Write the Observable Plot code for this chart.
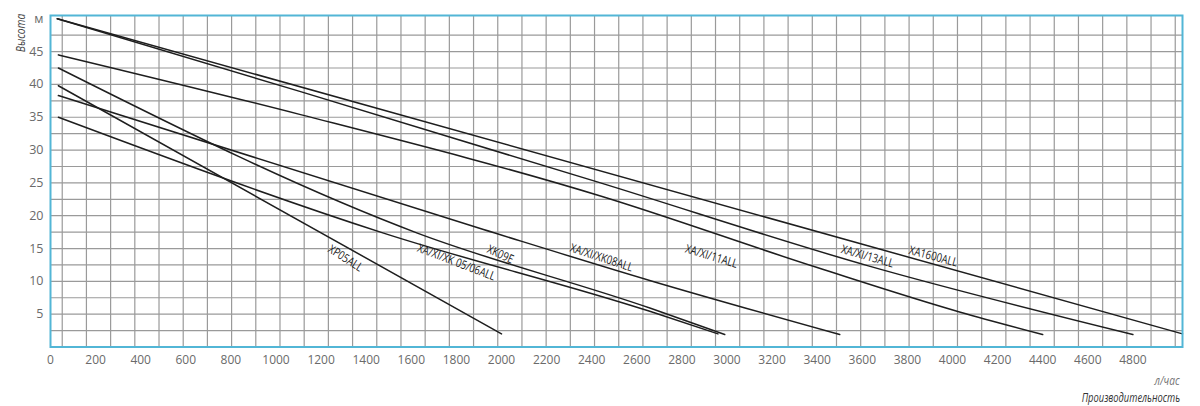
<!DOCTYPE html>
<html><head><meta charset="utf-8">
<script src="https://cdn.jsdelivr.net/npm/d3@7"></script>
<script src="https://cdn.jsdelivr.net/npm/@observablehq/plot@0.6"></script>
<style>
body{margin:0;background:#fff;}
#wrap{position:relative;width:1200px;height:406px;overflow:hidden;}
.t{position:absolute;font-family:"Open Sans",sans-serif;font-style:italic;white-space:nowrap;}
</style></head><body><div id="wrap"></div>
<script>
// pump series (name, flow л/час, head м)
const seriesNames = ["XA1600ALL","XA/XI/13ALL","XA/XI/11ALL","XA/XI/XK08ALL","XK09E","XA/XI/XK 05/06ALL","XP05ALL"];
const seriesFlows = [
  [30, 5020],
  [30, 1109, 2439, 3623, 4800],
  [35, 1109, 2439, 3400, 4035, 4400],
  [35, 1920, 2661, 3500],
  [35, 1627, 2661, 2990],
  [35, 1477, 2661, 2960],
  [35, 2000]
];
const seriesHeads = [
  [50, 2],
  [50, 38.9, 25.0, 12.4, 1.9],
  [44.5, 35.4, 23.0, 12.1, 5.3, 1.9],
  [38.3, 17.9, 10.1, 1.9],
  [42.5, 17.35, 5.9, 1.9],
  [35, 17.35, 5.4, 2.0],
  [39.8, 2]
];
// curve labels (anchor in data units) and their tilt
const labelFlow = [3915, 3623, 2931, 2443, 1995, 1800, 1308];
const labelHead = [13.8, 13.8, 13.8, 13.6, 14.1, 12.9, 13.5];
const labelAngle = [15, 16, 17, 18, 24, 21, 33];

const xTicks = [0,200,400,600,800,1000,1200,1400,1600,1800,2000,2200,2400,2600,2800,3000,3200,3400,3600,3800,4000,4200,4400,4600,4800];
const yTicks = [5,10,15,20,25,30,35,40,45,50];
const yTickText = ["5","10","15","20","25","30","35","40","45","м"];

const lineData = seriesNames.flatMap((s,i)=>seriesFlows[i].map((f,j)=>({series:s, flow:f, head:seriesHeads[i][j]})));
const labels = seriesNames.map((s,i)=>({text:s, flow:labelFlow[i], head:labelHead[i], angle:labelAngle[i]}));
const gridX = d3.range(52, 5000, 107.3);
const gridY = d3.range(2.5, 48, 2.5);

const plot = Plot.plot({
  width:1200, height:406,
  marginLeft:50, marginRight:18, marginTop:15, marginBottom:59.5,
  style:{fontFamily:"'Open Sans',sans-serif", fontSize:"12px", color:"#6a6a6a", background:"#fff"},
  x:{domain:[0,5020], ticks:xTicks, tickSize:0, tickPadding:8, label:null, tickFormat:d=>String(d)},
  y:{domain:[0,50.5], ticks:yTicks, tickSize:0, tickPadding:7, label:null, tickFormat:d=>yTickText[yTicks.indexOf(d)]},
  marks:[
    Plot.ruleX(gridX,{stroke:"#9a9a9a", strokeWidth:1.2}),
    Plot.ruleY(gridY,{stroke:"#9a9a9a", strokeWidth:1.2}),
    Plot.line(lineData,{x:"flow", y:"head", z:"series", curve:"monotone-x", stroke:"#1e1e1e", strokeWidth:1.5}),
    Plot.text(labels,{x:"flow", y:"head", text:"text", rotate:"angle", fill:"#1a1a1a", fontSize:12, fontFamily:"'Open Sans',sans-serif", className:"curve-label"}),
    Plot.frame({stroke:"#52b6d6", strokeWidth:2})
  ]
});
plot.querySelectorAll("g[aria-label='y-axis tick label']").forEach(e=>e.setAttribute("font-size","12.5"));
// condense curve labels horizontally (narrow typeface look)
plot.querySelectorAll("g[aria-label='text'] text").forEach(t=>{
  const tr = t.getAttribute("transform") || "";
  t.setAttribute("transform", tr + " scale(0.8,1)");
});
const wrap = document.getElementById("wrap");
wrap.appendChild(plot);
function addText(txt, css){const d=document.createElement("div");d.className="t";d.textContent=txt;Object.assign(d.style,css);wrap.appendChild(d);}
addText("Высота",{left:"20px",top:"33px",fontSize:"12px",color:"#444",transform:"translate(-50%,-50%) rotate(-90deg) scale(0.85,1)"});
addText("л/час",{right:"20px",top:"372px",fontSize:"12px",color:"#777",transformOrigin:"right center",transform:"scale(0.85,1)"});
addText("Производительность",{right:"20px",top:"389px",fontSize:"12px",color:"#333",transformOrigin:"right center",transform:"scale(0.78,1)"});
</script></body></html>
